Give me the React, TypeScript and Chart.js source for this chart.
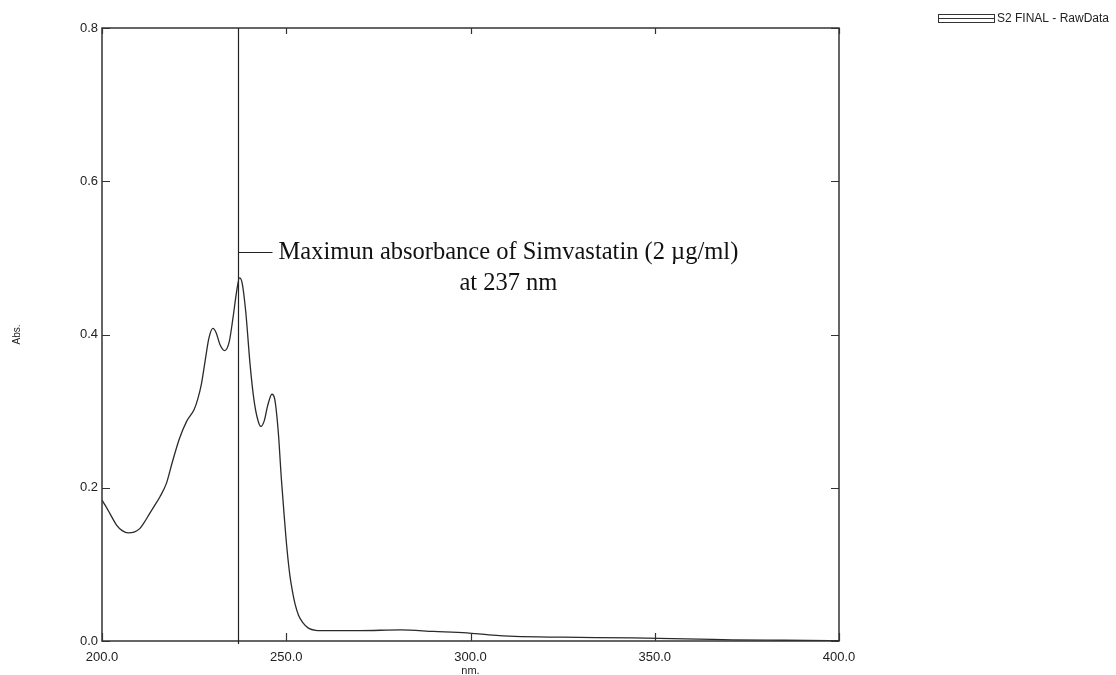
import React, { useEffect, useRef } from "react";
import { Chart, registerables } from "chart.js";

Chart.register(...registerables);

const wavelengths = [
  200, 201, 202.2, 204, 205.5, 207.1, 208.7, 210.3, 211.5, 213, 214.3, 215.7, 217.5, 219, 221, 223, 225, 226,
  227, 228, 229, 230.1, 231, 232, 233.3, 234.5, 235.5, 236.5, 237.3, 238, 239, 240.2, 241.2, 242.2, 243.1, 244,
  245, 246.1, 246.9, 247.8, 248.7, 249.5, 250.2, 251, 251.6, 252.4, 253.3, 254.5, 256, 258, 261, 270, 281, 290,
  299, 305, 312, 325, 344, 362, 371, 385, 400,
];
const absorbance = [
  0.184, 0.176, 0.166, 0.151, 0.144, 0.141, 0.142, 0.147, 0.155, 0.167, 0.177, 0.188, 0.206, 0.232, 0.264, 0.287,
  0.302, 0.316, 0.336, 0.366, 0.395, 0.408, 0.402, 0.387, 0.379, 0.39, 0.42, 0.455, 0.474, 0.468, 0.43, 0.36,
  0.316, 0.29, 0.28, 0.287, 0.308, 0.322, 0.315, 0.275, 0.21, 0.16, 0.12, 0.085, 0.067, 0.048, 0.034, 0.024,
  0.0168, 0.014, 0.0135, 0.0135, 0.0145, 0.0125, 0.0105, 0.008, 0.006, 0.005, 0.004, 0.0025, 0.0015, 0.001,
  0.0005,
];
const xTicks = [200, 250, 300, 350, 400];
const yTicks = [0, 0.2, 0.4, 0.6, 0.8];
const seriesName = "S2 FINAL - RawData";
const peakWavelength = 237;
const annotationLines = ["Maximun absorbance of Simvastatin (2 \u00B5g/ml)", "at 237 nm"];

const framePlugin = {
  id: "frameAndNotes",
  afterDraw(chart: any) {
    const { ctx, chartArea } = chart;
    const xs = chart.scales.x;
    const ys = chart.scales.y;
    const { left, right, top, bottom } = chartArea;
    ctx.save();
    // frame
    ctx.strokeStyle = "#333";
    ctx.lineWidth = 1.5;
    ctx.strokeRect(left, top, right - left, bottom - top);
    // inward ticks
    ctx.lineWidth = 1.2;
    const tl = 8;
    xTicks.forEach((v) => {
      const px = Math.round(xs.getPixelForValue(v)) + 0.5;
      ctx.beginPath();
      ctx.moveTo(px, bottom);
      ctx.lineTo(px, bottom - tl);
      ctx.moveTo(px, top);
      ctx.lineTo(px, top + tl - 2);
      ctx.stroke();
    });
    yTicks.forEach((v) => {
      const py = Math.round(ys.getPixelForValue(v)) + 0.5;
      ctx.beginPath();
      ctx.moveTo(left, py);
      ctx.lineTo(left + tl, py);
      ctx.moveTo(right, py);
      ctx.lineTo(right - tl, py);
      ctx.stroke();
    });
    // peak marker line
    const pk = Math.round(xs.getPixelForValue(peakWavelength)) + 0.5;
    ctx.strokeStyle = "#222";
    ctx.lineWidth = 1.2;
    ctx.beginPath();
    ctx.moveTo(pk, top);
    ctx.lineTo(pk, bottom + 3);
    ctx.stroke();
    // leader line + annotation text
    const ly = Math.round(ys.getPixelForValue(0.508)) + 0.5;
    ctx.beginPath();
    ctx.moveTo(pk, ly);
    ctx.lineTo(pk + 34, ly);
    ctx.stroke();
    ctx.fillStyle = "#111";
    ctx.font = '24.5px "Liberation Serif", "Times New Roman", serif';
    ctx.textBaseline = "middle";
    ctx.textAlign = "left";
    const tx = pk + 40;
    const w1 = ctx.measureText(annotationLines[0]).width;
    ctx.fillText(annotationLines[0], tx, ly);
    ctx.textAlign = "center";
    ctx.fillText(annotationLines[1], tx + w1 / 2, ly + 31);
    // legend
    const lx = 938;
    const lyy = 14;
    ctx.strokeStyle = "#333";
    ctx.lineWidth = 1;
    ctx.strokeRect(lx + 0.5, lyy + 0.5, 56, 8);
    ctx.beginPath();
    ctx.moveTo(lx, lyy + 4.5);
    ctx.lineTo(lx + 56, lyy + 4.5);
    ctx.stroke();
    ctx.fillStyle = "#222";
    ctx.font = '12px "Liberation Sans", Arial, sans-serif';
    ctx.textAlign = "left";
    ctx.textBaseline = "middle";
    ctx.fillText(seriesName, lx + 59, lyy + 4.5);
    ctx.restore();
  },
};

export default function App() {
  const ref = useRef<HTMLCanvasElement | null>(null);
  useEffect(() => {
    if (!ref.current) return;
    const data = wavelengths.map((x, i) => ({ x, y: absorbance[i] }));
    const tickFont = { family: '"Liberation Sans", Arial, sans-serif', size: 13 };
    const titleFont = { family: '"Liberation Sans", Arial, sans-serif', size: 11 };
    const chart = new Chart(ref.current, {
      type: "line",
      data: {
        datasets: [
          {
            label: seriesName,
            data,
            borderColor: "#2a2a2a",
            borderWidth: 1.3,
            pointRadius: 0,
            fill: false,
            cubicInterpolationMode: "monotone",
          },
        ],
      },
      options: {
        responsive: false,
        animation: false,
        layout: { padding: { top: 28, right: 277, left: 0, bottom: 0 } },
        plugins: { legend: { display: false }, tooltip: { enabled: false } },
        scales: {
          x: {
            type: "linear",
            min: 200,
            max: 400,
            afterBuildTicks: (s: any) => {
              s.ticks = xTicks.map((v) => ({ value: v }));
            },
            afterFit: (s: any) => {
              s.height = 34;
            },
            grid: { display: false, drawTicks: false, tickLength: 0 },
            border: { display: false },
            ticks: {
              color: "#222",
              font: tickFont,
              padding: 9,
              maxRotation: 0,
              callback: (v: any) => Number(v).toFixed(1),
            },
            title: {
              display: true,
              text: "nm.",
              color: "#222",
              font: titleFont,
              padding: { top: 0, bottom: -3 },
            },
          },
          y: {
            type: "linear",
            min: 0,
            max: 0.8,
            afterBuildTicks: (s: any) => {
              s.ticks = yTicks.map((v) => ({ value: v }));
            },
            afterFit: (s: any) => {
              s.width = 102;
            },
            grid: { display: false, drawTicks: false, tickLength: 0 },
            border: { display: false },
            ticks: {
              color: "#222",
              font: tickFont,
              padding: 4,
              callback: (v: any) => Number(v).toFixed(1),
            },
            title: {
              display: true,
              text: "Abs.",
              color: "#222",
              font: { family: '"Liberation Sans", Arial, sans-serif', size: 10 },
              padding: { top: 11, bottom: 0 },
            },
          },
        },
      },
      plugins: [framePlugin],
    } as any);
    return () => chart.destroy();
  }, []);
  return (
    <div style={{ position: "fixed", left: 0, top: 0, width: 1116, height: 675, background: "#fff" }}>
      <canvas ref={ref} width={1116} height={675} style={{ display: "block" }} />
    </div>
  );
}
